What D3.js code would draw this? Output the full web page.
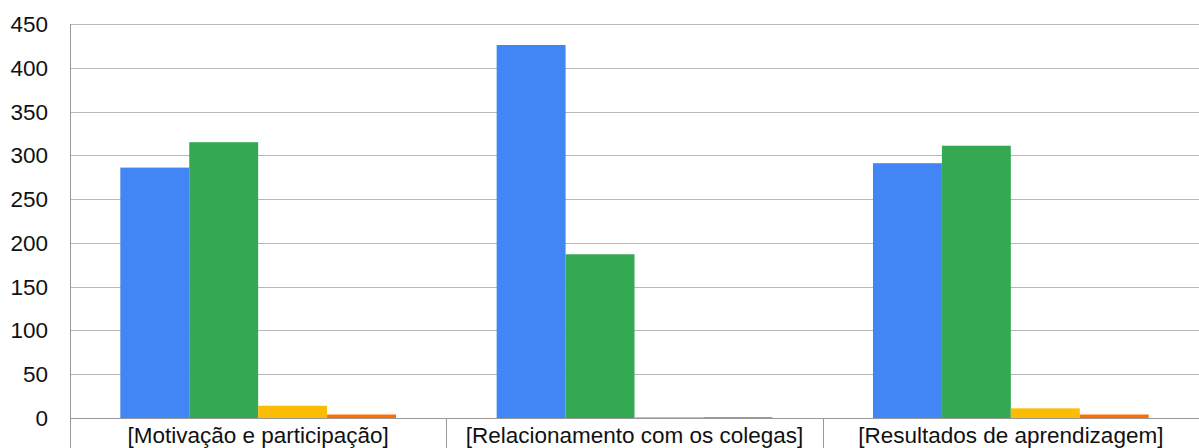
<!DOCTYPE html>
<html>
<head>
<meta charset="utf-8">
<script src="https://cdn.jsdelivr.net/npm/d3@7"></script>
<style>
  body { margin: 0; background: #fff; }
  svg { display: block; font-family: "Liberation Sans", Arial, sans-serif; }
</style>
</head>
<body>
<script>
// constants
const w = 1199;
const h = 448;
const margin = {top: 24, right: 1, bottom: 30, left: 70};

// data
const categories = ["[Motivação e participação]", "[Relacionamento com os colegas]", "[Resultados de aprendizagem]"];
const seriesNames = ["s1", "s2", "s3", "s4"];
const s1 = [286, 426, 291];
const s2 = [315, 187, 311];
const s3 = [14, 1, 11];
const s4 = [4, 1, 4];
const yTicks = [0, 50, 100, 150, 200, 250, 300, 350, 400, 450];
const colors = ["#4285f4", "#34a853", "#fbbc04", "#ff6d01"];

const series = [s1, s2, s3, s4];

const svg = d3.select("body")
  .append("svg")
  .attr("width", w)
  .attr("height", h);

const xScale = d3.scaleBand()
  .domain(categories)
  .range([margin.left, w - margin.right + 1])
  .paddingInner(0)
  .paddingOuter(0);

const inner = d3.scaleBand()
  .domain(seriesNames)
  .range([0, xScale.bandwidth()])
  .paddingInner(0)
  .paddingOuter(0.73);

const yScale = d3.scaleLinear()
  .domain([0, 450])
  .range([h - margin.bottom, margin.top]);

// gridlines
svg.append("g")
  .selectAll("line")
  .data(yTicks)
  .enter()
  .append("line")
  .attr("x1", margin.left)
  .attr("x2", w)
  .attr("y1", d => Math.round(yScale(d)) + 0.5)
  .attr("y2", d => Math.round(yScale(d)) + 0.5)
  .attr("stroke", "#b7b7b7")
  .attr("stroke-width", 1);

// y labels
svg.append("g")
  .selectAll("text")
  .data(yTicks)
  .enter()
  .append("text")
  .attr("x", 48)
  .attr("y", d => yScale(d) + 8)
  .attr("text-anchor", "end")
  .attr("font-size", 22.5)
  .attr("fill", "#111")
  .text(d => d);

// bars
categories.forEach((c, i) => {
  svg.append("g")
    .selectAll("rect")
    .data(series.map((s, j) => ({key: seriesNames[j], value: s[i], color: colors[j]})))
    .enter()
    .append("rect")
    .attr("x", d => xScale(c) + inner(d.key))
    .attr("y", d => yScale(d.value))
    .attr("width", inner.bandwidth())
    .attr("height", d => yScale(0) - yScale(d.value))
    .attr("fill", d => d.color);
});

// baseline + left axis
svg.append("line")
  .attr("x1", margin.left).attr("x2", w)
  .attr("y1", Math.round(yScale(0)) + 0.5).attr("y2", Math.round(yScale(0)) + 0.5)
  .attr("stroke", "#999");

svg.append("line")
  .attr("x1", margin.left + 0.5).attr("x2", margin.left + 0.5)
  .attr("y1", margin.top).attr("y2", h)
  .attr("stroke", "#999");

// category separators
svg.append("g")
  .selectAll("line")
  .data(categories.slice(1))
  .enter()
  .append("line")
  .attr("x1", d => Math.round(xScale(d)) + 0.5)
  .attr("x2", d => Math.round(xScale(d)) + 0.5)
  .attr("y1", yScale(0))
  .attr("y2", h)
  .attr("stroke", "#999");

// category labels
svg.append("g")
  .selectAll("text")
  .data(categories)
  .enter()
  .append("text")
  .attr("x", d => xScale(d) + xScale.bandwidth() / 2)
  .attr("y", 443)
  .attr("text-anchor", "middle")
  .attr("font-size", 22.5)
  .attr("fill", "#111")
  .text(d => d);
</script>
</body>
</html>
